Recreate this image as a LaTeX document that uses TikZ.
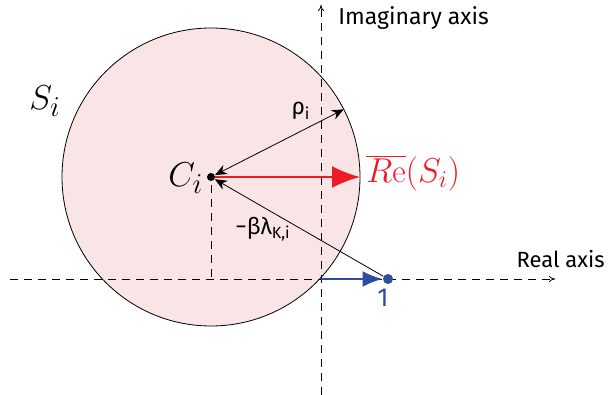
\documentclass[tikz,border=0pt]{standalone}
\usepackage{fontspec}
\newfontfamily\labelfont{Fira Sans}
\usetikzlibrary{arrows.meta, calc, positioning}
\definecolor{diskpink}{RGB}{249,228,230}
\definecolor{rered}{RGB}{237,28,36}
\definecolor{oneblue}{RGB}{46,76,160}
\tikzstyle{axis} = [thin, dash pattern=on 4pt off 3pt, -{To[length=3pt,width=3pt]}]
\tikzstyle{arrow} = [thin, -{Stealth[length=6pt,width=5pt]}]
\tikzset{
  guide/.style = {thin, dash pattern=on 4pt off 3pt},
  dot/.style   = {circle, fill, inner sep=0pt, minimum size=4pt},
  txt/.style   = {font=\labelfont\fontsize{11.5}{13}\selectfont, inner sep=1pt},
  sym/.style   = {font=\fontsize{19}{22}\selectfont, inner sep=1pt}
}

\begin{document}
\begin{tikzpicture}[x=0.5pt, y=-0.5pt]
  \useasboundingbox (0,0) rectangle (610,395);

  % Disc S_i
  \coordinate (ci) at (211,177);
  \draw[fill=diskpink, thin] (ci) circle[radius=149];

  % Axes
  \coordinate (origin) at (321,279);
  \coordinate (xstart) at (10,279);
  \coordinate (xend) at (555,279);
  \coordinate (ystart) at (321,395);
  \coordinate (yend) at (321,5);
  \draw[axis] (xstart) -- (xend);
  \draw[axis] (ystart) -- (yend);
  \node[txt, anchor=west] (imlabel) at (336,18) {Imaginary axis};
  \node[txt, anchor=east, font=\labelfont\fontsize{11}{13}\selectfont] (relabel) at (607,259) {Real axis};

  % Projection of the centre
  \coordinate (cfoot) at (211,279);
  \draw[guide] ($(ci)+(0,8)$) -- (cfoot);

  % Points and vectors
  \node[dot] (center) at (ci) {};
  \node[dot, oneblue, minimum size=5pt] (one) at (388,279) {};
  \coordinate (rhoend) at ($(ci)+(-27:149)$);
  \coordinate (reend) at ($(ci)+(149,0)$);

  \draw[rered, line width=1pt, -{Latex[length=14pt,width=11pt]}] (center) -- (reend);
  \draw[arrow, {Stealth[length=6pt,width=5pt]}-{Stealth[length=6pt,width=5pt]}] (center) -- (rhoend);
  \draw[arrow] (one) -- (center);
  \draw[oneblue, line width=1.2pt, -{Latex[length=10pt,width=8pt]}] (origin) -- (one);

  % Labels
  \node[sym] (silabel) at (45,101) {$S_i$};
  \node[sym, anchor=east] (cilabel) at ($(center.west)+(-1,1)$) {$C_i$};
  \node[txt] (rholabel) at (301,111) {ρ\textsubscript{i}};
  \node[txt] (betalabel) at (263,229) {−βλ\textsubscript{K,i}};
  \node[sym, rered, anchor=west, font=\fontsize{16.5}{19}\selectfont] (relabel2) at (364,173) {$\overline{R\mathrm{e}}(S_i)$};
  \node[txt, oneblue, font=\labelfont\fontsize{13}{15}\selectfont] (onelabel) at (383,298) {1};
\end{tikzpicture}
\end{document}
